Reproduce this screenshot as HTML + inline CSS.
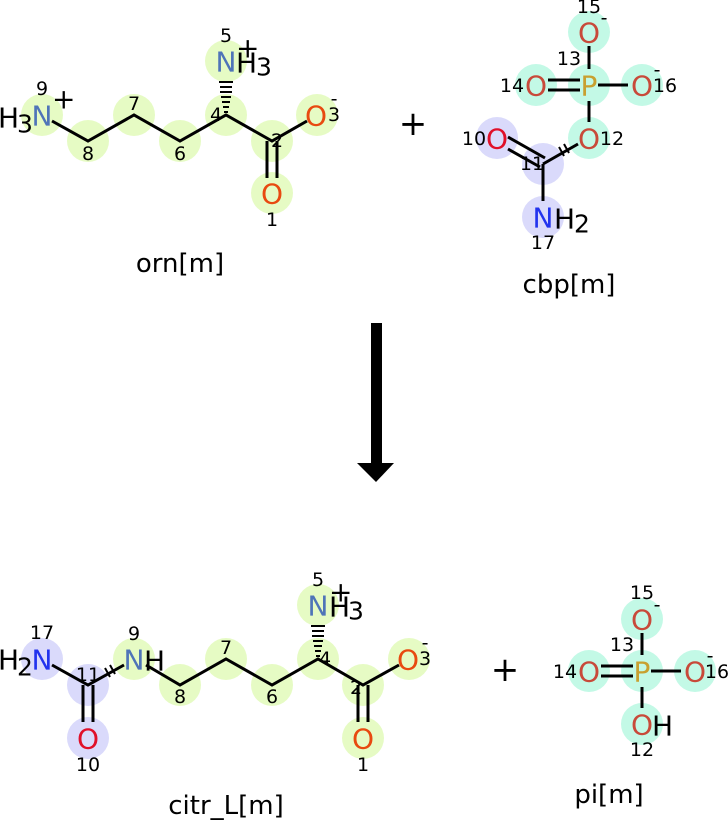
<!DOCTYPE html>
<html><head><meta charset="utf-8"><style>
html,body{margin:0;padding:0;background:#fff;}
svg{display:block;}
text{font-family:"DejaVu Sans","Liberation Sans",sans-serif;}
.e{font-size:28px;text-anchor:middle;dominant-baseline:central;}
.n{font-size:19px;text-anchor:middle;dominant-baseline:central;fill:#000;}
.h{font-size:28px;dominant-baseline:central;fill:#000;}
.s{font-size:25px;}
.b{stroke:#000;stroke-width:3;fill:none;}
.g{fill:#e2faba;opacity:0.85;}
.t{fill:#b8f8e2;opacity:0.85;}
.v{fill:#d4d4fa;opacity:0.85;}
.N{fill:#4f74b8;} .O{fill:#e84a10;} .Op{fill:#c84a3a;} .P{fill:#c8a030;} .Nb{fill:#2233ee;} .Or{fill:#e0102a;}
.lbl{font-size:26px;text-anchor:middle;}
</style></head><body>
<svg width="728" height="821" viewBox="0 0 728 821">
<!-- ORN -->
<g>
<circle class="g" cx="42" cy="115" r="21"/><circle class="g" cx="88" cy="141" r="21"/><circle class="g" cx="134" cy="115" r="21"/>
<circle class="g" cx="180" cy="141" r="21"/><circle class="g" cx="226" cy="115" r="21"/><circle class="g" cx="226" cy="61" r="21"/>
<circle class="g" cx="272" cy="141" r="21"/><circle class="g" cx="317" cy="115" r="21"/><circle class="g" cx="272" cy="193" r="21"/>
<polyline class="b" points="52,121 88,141 134,115 180,141 226,115 272,141 307,121"/>
<line class="b" x1="267" y1="141" x2="267" y2="178"/><line class="b" x1="277" y1="141" x2="277" y2="178"/>
<g stroke="#000" stroke-width="2">
<line x1="224" y1="112" x2="228" y2="112"/><line x1="223" y1="107" x2="229" y2="107"/><line x1="222" y1="102" x2="230" y2="102"/>
<line x1="221" y1="97" x2="231" y2="97"/><line x1="220" y1="92" x2="232" y2="92"/><line x1="220" y1="87" x2="232" y2="87"/><line x1="219" y1="82" x2="233" y2="82"/>
</g>
<text class="h" x="-2" y="118">H</text><text class="h s" x="17" y="124">3</text>
<text class="e N" x="42" y="116">N</text><text class="h" x="52" y="99">+</text>
<text class="n" x="42" y="89">9</text><text class="n" x="88" y="154">8</text><text class="n" x="134" y="104">7</text>
<text class="n" x="180" y="154">6</text><text class="n" x="216" y="115">4</text><text class="n" x="277" y="141">2</text>
<text class="n" x="272" y="220">1</text><text class="n" x="226" y="36">5</text>
<text class="e N" x="226" y="62">N</text><text class="h" x="236" y="63">H</text><text class="h s" x="256" y="67">3</text>
<text class="h" x="236" y="48">+</text>
<text class="e O" x="316" y="116">O</text><text class="n" x="334" y="115">3</text><text class="n" x="334" y="99">-</text>
<text class="e O" x="272" y="194">O</text>
</g>
<text x="413" y="124" style="font-size:34px;text-anchor:middle;dominant-baseline:central">+</text>
<!-- CBP -->
<g>
<circle class="t" cx="589" cy="32" r="21"/><circle class="t" cx="589" cy="85" r="21"/><circle class="t" cx="536" cy="85" r="21"/>
<circle class="t" cx="642" cy="85" r="21"/><circle class="t" cx="589" cy="138" r="21"/>
<circle class="v" cx="497" cy="138" r="21"/><circle class="v" cx="543" cy="164" r="21"/><circle class="v" cx="543" cy="217" r="21"/>
<line class="b" x1="589" y1="46" x2="589" y2="69"/><line class="b" x1="589" y1="101" x2="589" y2="122"/>
<line class="b" x1="598" y1="85" x2="628" y2="85"/>
<line class="b" x1="548" y1="80" x2="580" y2="80"/><line class="b" x1="548" y1="90" x2="580" y2="90"/>
<line class="b" x1="543" y1="164" x2="578" y2="144"/>
<line class="b" x1="508" y1="137" x2="545" y2="158"/><line class="b" x1="508" y1="149" x2="540" y2="167"/>
<line class="b" x1="543" y1="164" x2="543" y2="201"/>
<line stroke="#000" stroke-width="2" x1="564" y1="156" x2="559" y2="147"/><line stroke="#000" stroke-width="2" x1="569" y1="153" x2="564" y2="144"/>
<text class="e Op" x="589" y="33">O</text><text class="n" x="604" y="18">-</text><text class="n" x="589" y="7">15</text>
<text class="e P" x="589" y="86">P</text><text class="n" x="569" y="59">13</text>
<text class="e Op" x="536" y="86">O</text><text class="n" x="512" y="86">14</text>
<text class="e Op" x="642" y="86">O</text><text class="n" x="665" y="86">16</text><text class="n" x="657" y="70">-</text>
<text class="e Op" x="589" y="139">O</text><text class="n" x="612" y="139">12</text>
<text class="e Or" x="497" y="139">O</text><text class="n" x="474" y="139">10</text>
<text class="n" x="532" y="164">11</text>
<text class="e Nb" x="543" y="218">N</text><text class="h" x="554" y="219">H</text><text class="h s" x="574" y="224">2</text>
<text class="n" x="543" y="243">17</text>
</g>
<text class="lbl" x="180" y="272">orn[m]</text>
<text class="lbl" x="569" y="293">cbp[m]</text>
<!-- arrow -->
<rect x="371" y="323" width="11" height="143" fill="#000"/>
<polygon points="357,463 394,463 376,482" fill="#000"/>
<!-- CITR -->
<g>
<circle class="v" cx="42" cy="659" r="21"/><circle class="v" cx="88" cy="685" r="21"/><circle class="v" cx="88" cy="738" r="21"/>
<circle class="g" cx="134" cy="659" r="21"/><circle class="g" cx="180" cy="685" r="21"/><circle class="g" cx="226" cy="659" r="21"/>
<circle class="g" cx="272" cy="685" r="21"/><circle class="g" cx="318" cy="659" r="21"/><circle class="g" cx="318" cy="605" r="21"/>
<circle class="g" cx="363" cy="685" r="21"/><circle class="g" cx="409" cy="659" r="21"/><circle class="g" cx="363" cy="738" r="21"/>
<polyline class="b" points="52,665 88,685 124,665"/>
<polyline class="b" points="146,665 180,685 226,659 272,685 318,659 363,685 399,665"/>
<line class="b" x1="83" y1="685" x2="83" y2="722"/><line class="b" x1="93" y1="685" x2="93" y2="722"/>
<line class="b" x1="358" y1="685" x2="358" y2="722"/><line class="b" x1="368" y1="685" x2="368" y2="722"/>
<line stroke="#000" stroke-width="2" x1="110" y1="677" x2="105" y2="668"/><line stroke="#000" stroke-width="2" x1="115" y1="674" x2="110" y2="665"/>
<g stroke="#000" stroke-width="2">
<line x1="316" y1="656" x2="320" y2="656"/><line x1="315" y1="651" x2="321" y2="651"/><line x1="314" y1="646" x2="322" y2="646"/>
<line x1="313" y1="641" x2="323" y2="641"/><line x1="312" y1="636" x2="324" y2="636"/><line x1="312" y1="631" x2="324" y2="631"/><line x1="311" y1="626" x2="325" y2="626"/>
</g>
<text class="h" x="-2" y="660">H</text><text class="h s" x="17" y="667">2</text>
<text class="e Nb" x="42" y="660">N</text><text class="n" x="42" y="633">17</text>
<text class="n" x="88" y="675">11</text>
<text class="e Or" x="88" y="739">O</text><text class="n" x="88" y="765">10</text>
<text class="e N" x="134" y="660">N</text><text class="h" x="144" y="661">H</text><text class="n" x="134" y="634">9</text>
<text class="n" x="180" y="697">8</text><text class="n" x="226" y="648">7</text><text class="n" x="272" y="697">6</text>
<text class="n" x="325" y="659">4</text><text class="n" x="356" y="688">2</text><text class="n" x="363" y="765">1</text>
<text class="e N" x="318" y="606">N</text><text class="h" x="329" y="607">H</text><text class="h s" x="348" y="611">3</text>
<text class="h" x="329" y="592">+</text><text class="n" x="318" y="580">5</text>
<text class="e O" x="408" y="660">O</text><text class="n" x="425" y="659">3</text><text class="n" x="425" y="643">-</text>
<text class="e O" x="363" y="739">O</text>
</g>
<text x="505" y="670" style="font-size:34px;text-anchor:middle;dominant-baseline:central">+</text>
<!-- PI -->
<g>
<circle class="t" cx="642" cy="619" r="21"/><circle class="t" cx="642" cy="671" r="21"/><circle class="t" cx="589" cy="671" r="21"/>
<circle class="t" cx="695" cy="671" r="21"/><circle class="t" cx="642" cy="724" r="21"/>
<line class="b" x1="642" y1="633" x2="642" y2="655"/><line class="b" x1="642" y1="687" x2="642" y2="708"/>
<line class="b" x1="651" y1="671" x2="681" y2="671"/>
<line class="b" x1="601" y1="666" x2="633" y2="666"/><line class="b" x1="601" y1="676" x2="633" y2="676"/>
<text class="e Op" x="642" y="620">O</text><text class="n" x="657" y="605">-</text><text class="n" x="642" y="593">15</text>
<text class="e P" x="642" y="672">P</text><text class="n" x="622" y="645">13</text>
<text class="e Op" x="589" y="672">O</text><text class="n" x="565" y="672">14</text>
<text class="e Op" x="695" y="672">O</text><text class="n" x="717" y="672">16</text><text class="n" x="710" y="656">-</text>
<text class="e Op" x="642" y="725">O</text><text class="h" x="652" y="726">H</text><text class="n" x="642" y="750">12</text>
</g>
<text class="lbl" x="226" y="814">citr_L[m]</text>
<text class="lbl" x="609" y="803">pi[m]</text>
</svg>
</body></html>
